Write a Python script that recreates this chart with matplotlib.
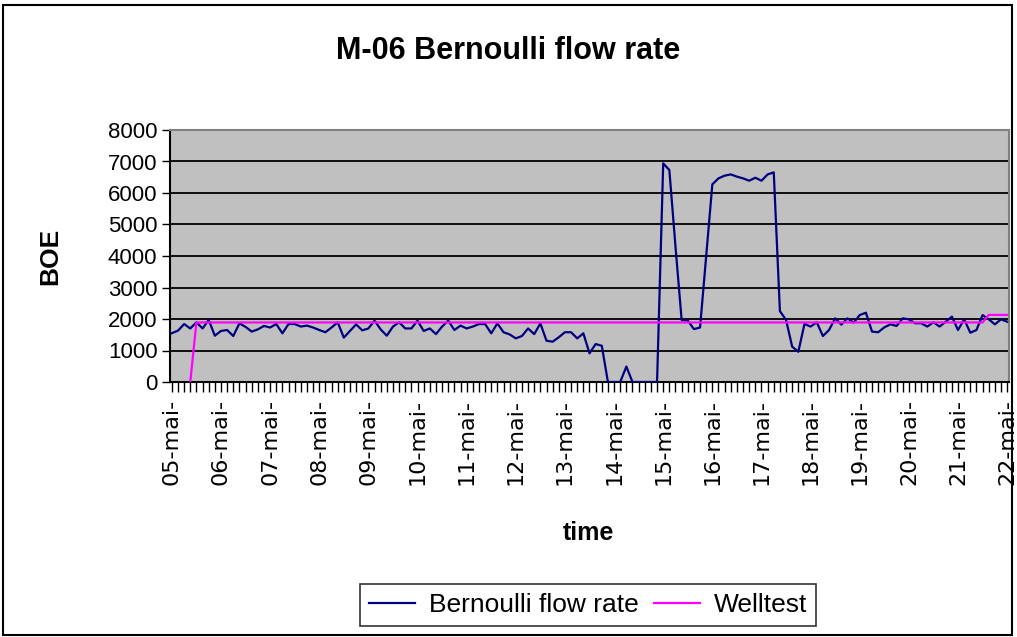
import matplotlib.pyplot as plt
import matplotlib.patches as patches
import numpy as np

plt.rcParams['font.family'] = ['Liberation Sans', 'DejaVu Sans']

# 3-hour samples from 05-mai 00:00 to 22-mai 00:00
bernoulli = [
    1550, 1630, 1840, 1700, 1895, 1700, 1970, 1470, 1620, 1650,
    1460, 1860, 1750, 1600, 1670, 1780, 1730, 1840, 1545, 1840,
    1840, 1760, 1790, 1730, 1650, 1580, 1730, 1895, 1410, 1620,
    1830, 1640, 1700, 1950, 1670, 1470, 1760, 1895, 1700, 1700,
    1950, 1620, 1700, 1520, 1760, 1950, 1650, 1790, 1700, 1760,
    1840, 1840, 1545, 1860, 1580, 1510, 1385, 1460, 1700, 1520,
    1860, 1310, 1280, 1420, 1580, 1580, 1385, 1545, 910, 1205,
    1150, 0, 0, 0, 490, 0, 0, 0, 0, 0,
    6940, 6730, 4300, 1970, 1950, 1680, 1730, 4000, 6275, 6465,
    6550, 6590, 6520, 6465, 6390, 6485, 6390, 6590, 6655, 2250,
    1970, 1120, 960, 1840, 1760, 1895, 1460, 1650, 2020, 1820,
    2020, 1885, 2125, 2200, 1600, 1580, 1735, 1830, 1780, 2020,
    1990, 1865, 1865, 1760, 1895, 1760, 1915, 2075, 1650, 1990,
    1565, 1650, 2125, 1990, 1830, 1990, 1915,
]
welltest = [np.nan] * 3 + [0] + [1890] * 129 + [2130] * 4
jours = ['05-mai-', '06-mai-', '07-mai-', '08-mai-', '09-mai-', '10-mai-',
         '11-mai-', '12-mai-', '13-mai-', '14-mai-', '15-mai-', '16-mai-',
         '17-mai-', '18-mai-', '19-mai-', '20-mai-', '21-mai-', '22-mai-']

x = np.arange(len(bernoulli))

fig = plt.figure(figsize=(10.17, 6.37), dpi=100)
ax = fig.add_axes([170 / 1017, 1 - 382 / 637, 839 / 1017, 252 / 637])
ax.set_facecolor('#C0C0C0')

ax.plot(x, bernoulli, color='#000080', lw=1.6, label='Bernoulli flow rate', zorder=3)
ax.plot(x, welltest, color='#FF00FF', lw=1.6, label='Welltest', zorder=3)

ax.set_xlim(-0.3, len(x) - 0.7)
ax.set_ylim(0, 8000)
ax.set_yticks(range(0, 8001, 1000))
ax.yaxis.grid(True, color='black', lw=1.3)
ax.set_axisbelow(True)

ax.set_xticks(np.arange(0, len(x), 8))
ax.set_xticklabels(jours, rotation=90, fontsize=16, family='DejaVu Sans')
ax.set_xticks(x, minor=True)
ax.tick_params(axis='x', which='both', length=7, width=1, direction='out', pad=5)
ax.tick_params(axis='y', length=6, width=1, labelsize=16, pad=3)

for s in ['left', 'bottom']:
    ax.spines[s].set_color('black')
    ax.spines[s].set_linewidth(1.5)
for s in ['top', 'right']:
    ax.spines[s].set_color('#808080')
    ax.spines[s].set_linewidth(1.5)

ax.set_xlabel('time', fontsize=18, fontweight='bold', va='center')
ax.xaxis.set_label_coords(418 / 839, -151 / 252)
ax.set_ylabel('BOE', fontsize=19, fontweight='bold', va='center')
ax.yaxis.set_label_coords(-120 / 839, 0.5)
fig.text(0.5, 1 - 51 / 637, 'M-06 Bernoulli flow rate', ha='center', va='center',
         fontsize=22, fontweight='bold')

leg = fig.legend(loc='center', bbox_to_anchor=(588 / 1017, 1 - 605 / 637), ncol=2,
                 fontsize=19, frameon=True, fancybox=False, handlelength=1.75,
                 columnspacing=0.6, handletextpad=0.5, borderpad=0.35,
                 borderaxespad=0)
leg.get_frame().set_edgecolor('black')
leg.get_frame().set_linewidth(1.2)

fig.patches.append(patches.Rectangle((3 / 1017, 2 / 637), 1009 / 1017, 630 / 637,
                                     transform=fig.transFigure, fill=False,
                                     edgecolor='black', lw=1.5))

fig.savefig('out.png', dpi=100)
